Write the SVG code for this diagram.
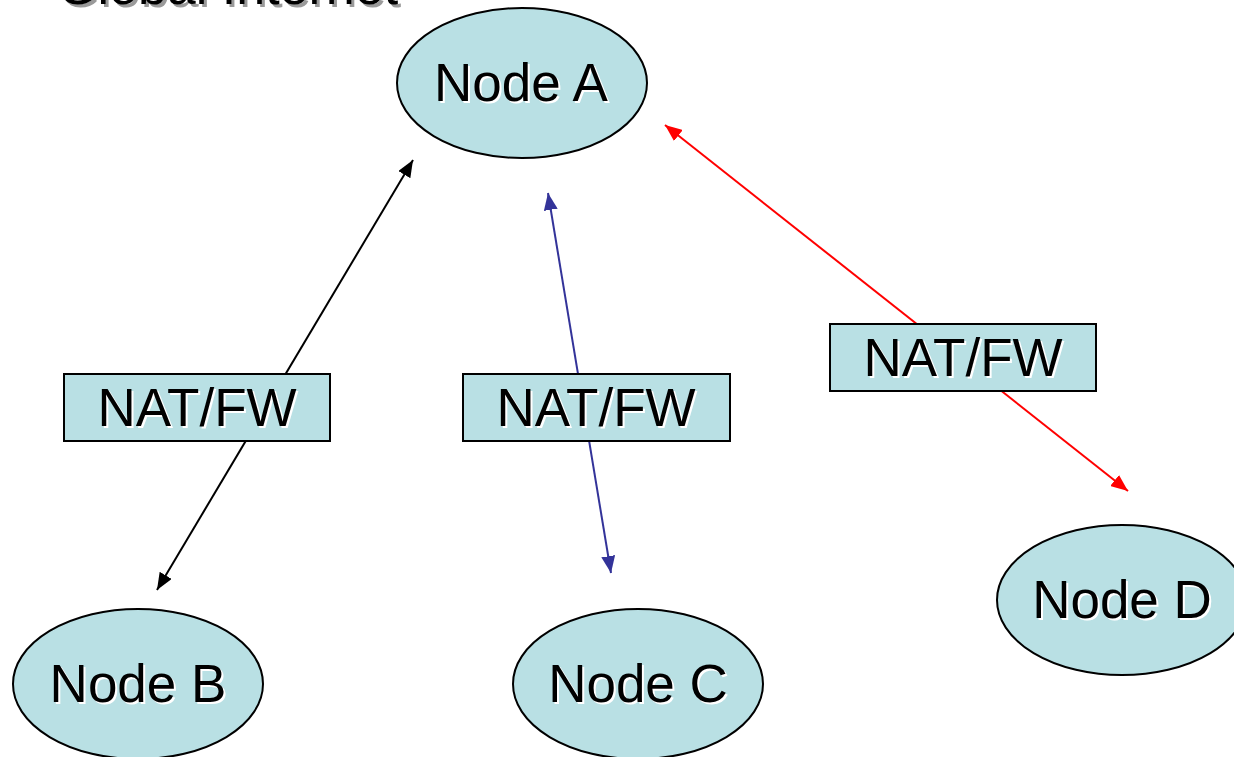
<svg xmlns="http://www.w3.org/2000/svg" width="1234" height="757" viewBox="0 0 1234 757">
  <style>
    .node { fill: #b9e0e4; stroke: #000; stroke-width: 2; }
    .box { fill: #b9e0e4; stroke: #000; stroke-width: 2; }
    .lbl { font-family: "Liberation Sans", Arial, sans-serif; font-size: 53px; text-anchor: middle; fill: #000; }
    .sh { fill: #fff; }
    .title { font-family: "Liberation Sans", Arial, sans-serif; font-size: 52px; fill: #000; }
    .title-sh { fill: #9a9a9a; }
    .link { fill: none; stroke-width: 2; }
  </style>
  <defs>
    <marker id="ahK" markerUnits="userSpaceOnUse" markerWidth="18" markerHeight="14" refX="17" refY="7" orient="auto-start-reverse">
      <path d="M0,0 L17,7 L0,14 z" fill="#000"/>
    </marker>
    <marker id="ahB" markerUnits="userSpaceOnUse" markerWidth="18" markerHeight="14" refX="17" refY="7" orient="auto-start-reverse">
      <path d="M0,0 L17,7 L0,14 z" fill="#333399"/>
    </marker>
    <marker id="ahR" markerUnits="userSpaceOnUse" markerWidth="18" markerHeight="14" refX="17" refY="7" orient="auto-start-reverse">
      <path d="M0,0 L17,7 L0,14 z" fill="#ff0000"/>
    </marker>
  </defs>

  <rect width="1234" height="757" fill="#fff"/>

  <!-- heading, mostly above the top edge -->
  <g id="heading">
    <text class="title title-sh" x="60" y="7">Global Internet</text>
    <text class="title" x="57" y="4">Global Internet</text>
  </g>

  <!-- connectors -->
  <g id="connectors">
    <line class="link" stroke="#000" x1="413" y1="160" x2="157" y2="590" marker-start="url(#ahK)" marker-end="url(#ahK)"/>
    <line class="link" stroke="#333399" x1="548" y1="193" x2="611" y2="573" marker-start="url(#ahB)" marker-end="url(#ahB)"/>
    <line class="link" stroke="#ff0000" x1="665" y1="125" x2="1128" y2="491" marker-start="url(#ahR)" marker-end="url(#ahR)"/>
  </g>

  <!-- hosts -->
  <g id="node-a">
    <ellipse class="node" cx="522" cy="83" rx="125" ry="75"/>
    <text class="lbl sh" x="523" y="103">Node A</text>
    <text class="lbl" x="521" y="101">Node A</text>
  </g>
  <g id="node-b">
    <ellipse class="node" cx="138" cy="684" rx="125" ry="75"/>
    <text class="lbl sh" x="140" y="704">Node B</text>
    <text class="lbl" x="138" y="702">Node B</text>
  </g>
  <g id="node-c">
    <ellipse class="node" cx="638" cy="684" rx="125" ry="75"/>
    <text class="lbl sh" x="640" y="704">Node C</text>
    <text class="lbl" x="638" y="702">Node C</text>
  </g>
  <g id="node-d">
    <ellipse class="node" cx="1122" cy="600" rx="125" ry="75"/>
    <text class="lbl sh" x="1124" y="620">Node D</text>
    <text class="lbl" x="1122" y="618">Node D</text>
  </g>

  <!-- middleboxes -->
  <g id="nat-b">
    <rect class="box" x="64" y="374" width="266" height="67"/>
    <text class="lbl sh" x="199" y="428">NAT/FW</text>
    <text class="lbl" x="197" y="426">NAT/FW</text>
  </g>
  <g id="nat-c">
    <rect class="box" x="463" y="374" width="267" height="67"/>
    <text class="lbl sh" x="598" y="428">NAT/FW</text>
    <text class="lbl" x="596" y="426">NAT/FW</text>
  </g>
  <g id="nat-d">
    <rect class="box" x="830" y="324" width="266" height="67"/>
    <text class="lbl sh" x="965" y="378">NAT/FW</text>
    <text class="lbl" x="963" y="376">NAT/FW</text>
  </g>
</svg>
